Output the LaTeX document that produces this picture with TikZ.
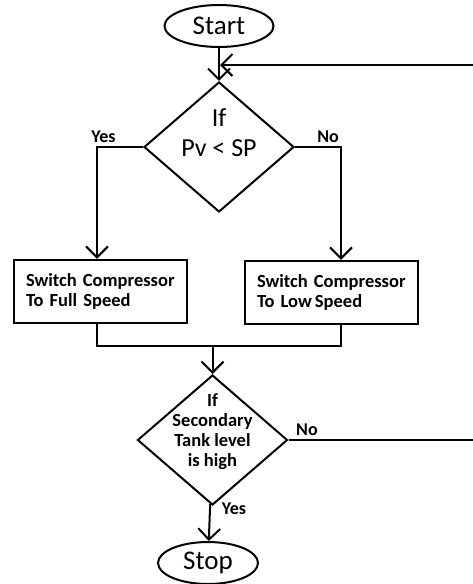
\documentclass[tikz,border=0pt]{standalone}
\usepackage{fontspec}
\setmainfont{Carlito}
\usetikzlibrary{shapes.geometric, arrows.meta, positioning}
\newcommand{\dtext}[2]{\raisebox{#1}[0pt][0pt]{\begin{tabular}{@{}c@{}}#2\end{tabular}}}

\begin{document}
\begin{tikzpicture}[x=1pt, y=-1pt, line width=2pt]
\tikzstyle{term} = [ellipse, draw, inner sep=0pt, font=\fontsize{27}{30}\selectfont]
\tikzstyle{decision} = [diamond, draw, inner sep=0pt, shape aspect=1.15, minimum width=150pt, minimum height=130pt]
\tikzstyle{process} = [rectangle, draw, line width=2.5pt, minimum width=173pt, minimum height=63pt, text width=149pt, align=left, font=\fontsize{18.5}{20}\selectfont\bfseries]
\tikzstyle{line} = [draw, -{Straight Barb[length=11pt, width=22pt]}]
\tikzstyle{lbl} = [font=\fontsize{18}{20}\selectfont\bfseries, inner sep=3pt]

\useasboundingbox (0,0) rectangle (473,584);

\node [term, minimum width=109pt, minimum height=42pt] (start) at (219,26) {Start};
\node [decision, font=\fontsize{26}{30}\selectfont] (pvsp) at (219,147) {\dtext{5.5pt}{If\\Pv < SP}};
\node [process] (full) at (100.5,291.5) {Switch Compressor\\To Full Speed};
\node [process] (low) at (331.5,292.5) {Switch Compressor\\To Low\,Speed};
\node [decision, font=\fontsize{18.5}{19.8}\selectfont\bfseries] (tank) at (212.5,440) {\dtext{3pt}{If\\Secondary\\Tank level\\is high}};
\node [term, minimum width=100pt, minimum height=42pt] (stop) at (208,563) {Stop};

\coordinate (yescol) at (97,0);
\coordinate (nocol) at (341,0);
\coordinate (merge) at (212.5,346);
\coordinate (loopin) at (220,65);
\coordinate (ret1) at (473,65);
\coordinate (ret2) at (473,440);

\draw [line] (start) -- (pvsp);
\draw [line] (ret1) -- (loopin);
\draw [line] (pvsp.west) -| node [lbl, above, pos=0.43] {Yes} (yescol |- full.north);
\draw [line] (pvsp.east) -| node [lbl, above, pos=0.36] {No} (nocol |- low.north);
\draw (yescol |- full.south) |- (merge) -| (nocol |- low.south);
\draw [line] (merge) -- (tank);
\draw (tank.east) -- node [lbl, above, pos=0.1] {No} (ret2);
\draw [line] (tank) -- node [lbl, right, xshift=8pt, pos=0.14] {Yes} (stop);
\end{tikzpicture}
\end{document}
